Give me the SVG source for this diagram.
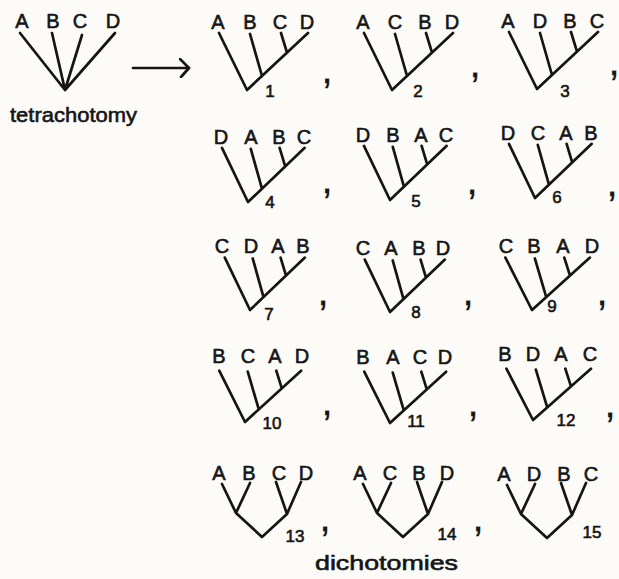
<svg xmlns="http://www.w3.org/2000/svg" xmlns:xlink="http://www.w3.org/1999/xlink" width="619" height="579" viewBox="0 0 619 579">
<style>
.ln{fill:none;stroke:#151515;stroke-width:2.7;stroke-linecap:round;stroke-linejoin:round}
text{font-family:"Liberation Sans","DejaVu Sans",sans-serif;fill:#151515;stroke:#151515;stroke-width:0.6}
.lbl{font-size:20px;text-anchor:middle}
.num{font-size:17px;text-anchor:middle}
.cm{font-size:40px;text-anchor:middle;stroke-width:0.3}
.cap{font-size:21px}
</style>
<defs>
<path id="lad" class="ln" vector-effect="non-scaling-stroke" d="M-28,-57 L0,0 L61,-57 M3,-56 L15,-14 M34,-57 L40,-37.4"/>
<path id="bal" class="ln" vector-effect="non-scaling-stroke" d="M-40,-53 L-26,-24 L0,0 L25,-23 L39,-55 M-12,-54 L-26,-24 M14,-55 L25,-23"/>
<marker id="chev" viewBox="0 0 12 20" refX="10" refY="10" markerWidth="12" markerHeight="20" markerUnits="userSpaceOnUse" orient="auto">
<path d="M1,1 L10,10 L2,19" fill="none" stroke="#151515" stroke-width="2.7" stroke-linecap="round" stroke-linejoin="round"/>
</marker>
</defs>
<rect width="619" height="579" fill="#fcfbf8"/>

<g id="tetrachotomy">
<path class="ln" d="M20,33 L65,90 M52,33 L65,90 M82,35 L65,90 M115,33 L65,90"/>
<text class="lbl" x="22" y="28">A</text><text class="lbl" x="53" y="28">B</text><text class="lbl" x="80" y="28">C</text><text class="lbl" x="113" y="28">D</text>
<text class="cap" x="10" y="122" textLength="127" lengthAdjust="spacingAndGlyphs">tetrachotomy</text>
</g>

<g id="connectors">
<path class="ln" d="M133,68 L189,68" marker-end="url(#chev)"/>
</g>

<g id="tree1"><use xlink:href="#lad" transform="translate(247,90)"/>
<text class="lbl" x="218" y="29">A</text><text class="lbl" x="250" y="29">B</text><text class="lbl" x="280" y="29">C</text><text class="lbl" x="307" y="29">D</text>
<text class="num" x="270" y="97">1</text></g>
<g id="tree2"><use xlink:href="#lad" transform="translate(392,90)"/>
<text class="lbl" x="363" y="29">A</text><text class="lbl" x="395" y="29">C</text><text class="lbl" x="425" y="29">B</text><text class="lbl" x="452" y="29">D</text>
<text class="num" x="418" y="97">2</text></g>
<g id="tree3"><use xlink:href="#lad" transform="translate(537,89)"/>
<text class="lbl" x="508" y="28">A</text><text class="lbl" x="540" y="28">D</text><text class="lbl" x="570" y="28">B</text><text class="lbl" x="597" y="28">C</text>
<text class="num" x="565" y="97">3</text></g>

<g id="tree4"><use xlink:href="#lad" transform="translate(248,202) scale(0.93,0.95)"/>
<text class="lbl" x="221" y="144">D</text><text class="lbl" x="251" y="144">A</text><text class="lbl" x="279" y="144">B</text><text class="lbl" x="304" y="144">C</text>
<text class="num" x="270" y="208">4</text></g>
<g id="tree5"><use xlink:href="#lad" transform="translate(390,200) scale(0.93,0.95)"/>
<text class="lbl" x="363" y="142">D</text><text class="lbl" x="393" y="142">B</text><text class="lbl" x="421" y="142">A</text><text class="lbl" x="446" y="142">C</text>
<text class="num" x="416" y="207">5</text></g>
<g id="tree6"><use xlink:href="#lad" transform="translate(535,198) scale(0.93,0.95)"/>
<text class="lbl" x="508" y="140">D</text><text class="lbl" x="538" y="140">C</text><text class="lbl" x="566" y="140">A</text><text class="lbl" x="591" y="140">B</text>
<text class="num" x="557" y="203">6</text></g>

<g id="tree7"><use xlink:href="#lad" transform="translate(250,310) scale(0.9,0.92)"/>
<text class="lbl" x="222" y="253">C</text><text class="lbl" x="251" y="253">D</text><text class="lbl" x="278" y="253">A</text><text class="lbl" x="303" y="253">B</text>
<text class="num" x="269" y="320">7</text></g>
<g id="tree8"><use xlink:href="#lad" transform="translate(390,312) scale(0.9,0.92)"/>
<text class="lbl" x="363" y="255">C</text><text class="lbl" x="391" y="255">A</text><text class="lbl" x="419" y="255">B</text><text class="lbl" x="443" y="255">D</text>
<text class="num" x="416" y="318">8</text></g>
<g id="tree9"><use xlink:href="#lad" transform="translate(532,310) scale(0.95,0.92)"/>
<text class="lbl" x="506" y="253">C</text><text class="lbl" x="534" y="253">B</text><text class="lbl" x="563" y="253">A</text><text class="lbl" x="592" y="253">D</text>
<text class="num" x="552" y="312">9</text></g>

<g id="tree10"><use xlink:href="#lad" transform="translate(245,422) scale(0.92,0.9)"/>
<text class="lbl" x="219" y="363">B</text><text class="lbl" x="248" y="363">C</text><text class="lbl" x="275" y="363">A</text><text class="lbl" x="302" y="363">D</text>
<text class="num" x="272" y="429">10</text></g>
<g id="tree11"><use xlink:href="#lad" transform="translate(390,423) scale(0.92,0.9)"/>
<text class="lbl" x="363" y="364">B</text><text class="lbl" x="393" y="364">A</text><text class="lbl" x="420" y="364">C</text><text class="lbl" x="445" y="364">D</text>
<text class="num" x="416" y="427">11</text></g>
<g id="tree12"><use xlink:href="#lad" transform="translate(533,420) scale(0.95,0.9)"/>
<text class="lbl" x="505" y="361">B</text><text class="lbl" x="533" y="361">D</text><text class="lbl" x="561" y="361">A</text><text class="lbl" x="590" y="361">C</text>
<text class="num" x="566" y="426">12</text></g>

<g id="tree13"><use xlink:href="#bal" transform="translate(262,537)"/>
<text class="lbl" x="219" y="480">A</text><text class="lbl" x="249" y="480">B</text><text class="lbl" x="279" y="480">C</text><text class="lbl" x="306" y="480">D</text>
<text class="num" x="295" y="542">13</text></g>
<g id="tree14"><use xlink:href="#bal" transform="translate(403,537)"/>
<text class="lbl" x="360" y="480">A</text><text class="lbl" x="390" y="480">C</text><text class="lbl" x="419" y="480">B</text><text class="lbl" x="447" y="480">D</text>
<text class="num" x="447" y="540">14</text></g>
<g id="tree15"><use xlink:href="#bal" transform="translate(547,538)"/>
<text class="lbl" x="504" y="481">A</text><text class="lbl" x="534" y="481">D</text><text class="lbl" x="564" y="481">B</text><text class="lbl" x="591" y="481">C</text>
<text class="num" x="592" y="538">15</text></g>

<g id="commas">
<text class="cm" x="327" y="83">,</text><text class="cm" x="475" y="77">,</text><text class="cm" x="614" y="75">,</text>
<text class="cm" x="327" y="193">,</text><text class="cm" x="472" y="194">,</text><text class="cm" x="612" y="196">,</text>
<text class="cm" x="323" y="305">,</text><text class="cm" x="468" y="305">,</text><text class="cm" x="602" y="305">,</text>
<text class="cm" x="327" y="415">,</text><text class="cm" x="473" y="416">,</text><text class="cm" x="610" y="417">,</text>
<text class="cm" x="325" y="531">,</text><text class="cm" x="478" y="531">,</text>
</g>

<text class="cap" x="315" y="570" textLength="143" lengthAdjust="spacingAndGlyphs">dichotomies</text>
</svg>
